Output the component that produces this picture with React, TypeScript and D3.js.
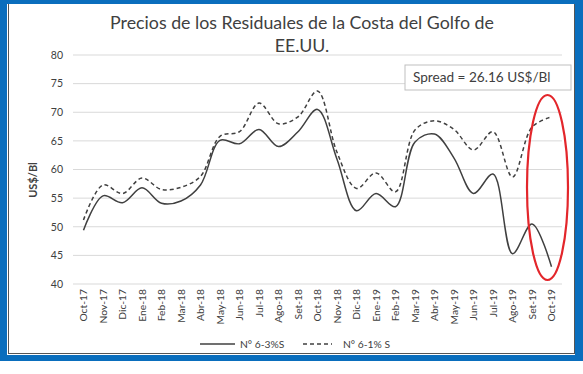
import React from "react";
import * as d3 from "d3";

const months = [
  "Oct-17", "Nov-17", "Dic-17", "Ene-18", "Feb-18", "Mar-18", "Abr-18", "May-18",
  "Jun-18", "Jul-18", "Ago-18", "Set-18", "Oct-18", "Nov-18", "Dic-18", "Ene-19",
  "Feb-19", "Mar-19", "Abr-19", "May-19", "Jun-19", "Jul-19", "Ago-19", "Set-19", "Oct-19",
];
const seriesNames = ["N° 6-3%S", "N° 6-1% S"];
const fuel63 = [49.4, 55.4, 54.2, 56.8, 54.1, 54.5, 57.3, 65.1, 64.5, 67.0, 64.0, 66.6, 70.5, 61.8, 52.8, 55.8, 53.5, 64.8, 66.2, 62.0, 55.8, 59.2, 45.3, 50.5, 43.0];
const fuel61 = [51.2, 57.3, 55.8, 58.5, 56.5, 56.9, 58.8, 65.8, 66.6, 71.6, 68.0, 69.2, 73.7, 63.0, 56.7, 59.4, 56.1, 66.9, 68.5, 67.0, 63.4, 66.6, 58.7, 67.4, 69.2];
const yTicks = [40, 45, 50, 55, 60, 65, 70, 75, 80];
const titleLines = ["Precios de los Residuales de la Costa del Golfo de", "EE.UU."];
const spreadText = "Spread = 26.16 US$/Bl";
const yTitle = "US$/Bl";

const FONT = "Lato, 'Open Sans', sans-serif";
const INK = "#404040";

export default function App() {
  const x = d3.scalePoint<string>().domain(months).range([83.5, 551.5]);
  const y = d3.scaleLinear().domain([40, 80]).range([284, 55]);
  const line = d3
    .line<number>()
    .x((_, i) => x(months[i]) as number)
    .y((d) => y(d))
    .curve(d3.curveCatmullRom.alpha(0.5));

  return (
    <svg
      width={583}
      height={374}
      style={{ position: "absolute", left: 0, top: 0, background: "#fff" }}
      fontFamily={FONT}
    >
      {/* frame */}
      <rect x={0} y={0} width={583} height={361} fill="#0a6ebd" />
      <rect x={7} y={4} width={568} height={351} fill="#fff" />
      <line x1={8.5} y1={4} x2={8.5} y2={354} stroke="#555" strokeWidth={1} />
      <line x1={574.5} y1={4} x2={574.5} y2={354} stroke="#555" strokeWidth={1} />
      <line x1={8.5} y1={353.5} x2={574.5} y2={353.5} stroke="#555" strokeWidth={1} />

      {/* title */}
      <text x={302} y={29} textAnchor="middle" fontSize={17.8} fill={INK}>{titleLines[0]}</text>
      <text x={302} y={52} textAnchor="middle" fontSize={17.8} fill={INK}>{titleLines[1]}</text>

      {/* gridlines and y ticks */}
      {yTicks.map((t) => (
        <g key={t}>
          <line x1={73} x2={562} y1={y(t)} y2={y(t)} stroke="#d9d9d9" strokeWidth={1} />
          <text x={63} y={y(t) + 3.8} textAnchor="end" fontSize={10.5} fill={INK}>{t}</text>
        </g>
      ))}

      {/* y title */}
      <text
        transform="translate(37,180) rotate(-90)"
        textAnchor="middle"
        fontSize={11}
        fontWeight="bold"
        fill={INK}
      >
        {yTitle}
      </text>

      {/* x labels */}
      {months.map((m) => (
        <text
          key={m}
          transform={`translate(${(x(m) as number) + 3.5},289) rotate(-90)`}
          textAnchor="end"
          fontSize={10.3}
          fill={INK}
        >
          {m}
        </text>
      ))}

      {/* lines */}
      <path d={line(fuel63) || ""} fill="none" stroke={INK} strokeWidth={1.5} />
      <path d={line(fuel61) || ""} fill="none" stroke={INK} strokeWidth={1.5} strokeDasharray="4,3" />

      {/* spread box */}
      <rect x={405} y={65} width={166} height={25} fill="#fff" stroke="#bfbfbf" strokeWidth={1} />
      <text x={413} y={82} fontSize={13.6} fill={INK}>{spreadText}</text>

      {/* red ellipse */}
      <ellipse cx={547.5} cy={187.5} rx={20.5} ry={92.5} fill="none" stroke="#e3262b" strokeWidth={2.2} />

      {/* legend */}
      <line x1={200} x2={235} y1={344} y2={344} stroke={INK} strokeWidth={1.5} />
      <text x={240} y={347.5} fontSize={10.3} fill={INK}>{seriesNames[0]}</text>
      <line x1={303} x2={332} y1={344} y2={344} stroke={INK} strokeWidth={1.5} strokeDasharray="4,3" />
      <text x={343} y={347.5} fontSize={10.3} fill={INK}>{seriesNames[1]}</text>
    </svg>
  );
}
